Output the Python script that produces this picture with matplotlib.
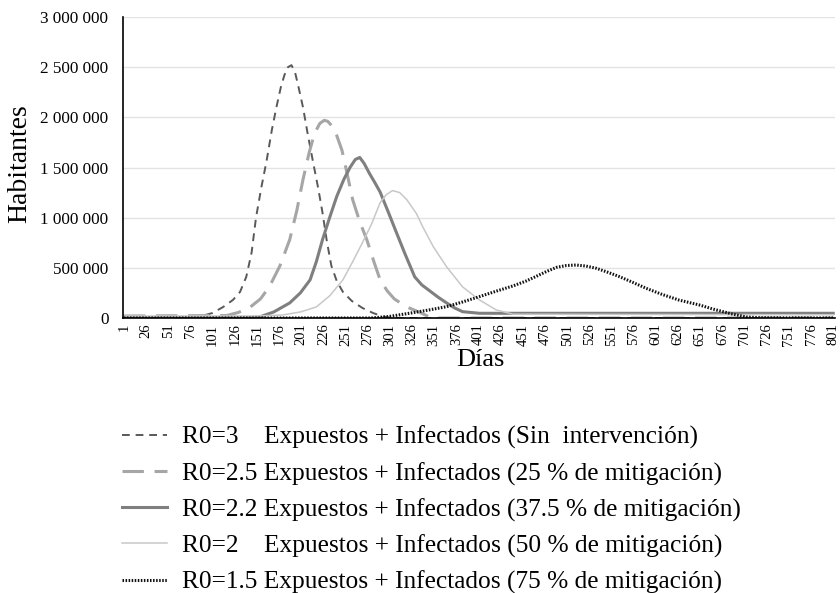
import numpy as np
import matplotlib
matplotlib.use("Agg")
import matplotlib.pyplot as plt
from matplotlib.ticker import FuncFormatter

# days on the x axis (category labels every 25 days)
tick_days = list(range(1, 802, 25))

# values in thousands of people
days_r3 = [1, 60, 85, 101, 113, 124, 132, 139, 145, 150, 156, 162, 168, 173,
           178, 182, 186, 190, 194, 198, 203, 208, 214, 220, 225, 230, 235,
           241, 248, 258, 270, 282, 293, 305, 801]
vals_r3 = [0, 0, 10, 50, 110, 180, 260, 410, 650, 1000, 1300, 1570, 1880, 2100,
           2300, 2420, 2500, 2520, 2450, 2300, 2100, 1850, 1570, 1300, 1050, 760,
           520, 370, 260, 170, 100, 50, 15, 0, 0]

days_r25 = [1, 117, 130, 143, 155, 165, 177, 188, 196, 203, 210, 216, 222, 227,
            231, 235, 241, 247, 253, 259, 267, 275, 283, 290, 298, 306, 320,
            335, 348, 801]
vals_r25 = [20, 25, 55, 105, 190, 310, 520, 780, 1070, 1380, 1650, 1840, 1940,
            1970, 1960, 1920, 1820, 1670, 1430, 1180, 960, 780, 560, 380, 270,
            190, 110, 55, 0, 0]

days_r22 = [1, 130, 154, 170, 188, 200, 211, 218, 225, 233, 241, 249, 256, 262,
            267, 272, 278, 284, 290, 299, 308, 318, 329, 337, 346, 355, 365,
            374, 383, 402, 801]
vals_r22 = [0, 0, 10, 60, 150, 250, 380, 560, 780, 1000, 1210, 1380, 1500, 1580,
            1600, 1540, 1440, 1350, 1255, 1060, 860, 640, 410, 330, 270, 210,
            150, 100, 63, 47, 47]

days_r2 = [1, 150, 180, 200, 218, 233, 248, 259, 270, 280, 290, 297, 304, 312,
           320, 331, 338, 350, 365, 383, 402, 421, 440, 801]
vals_r2 = [20, 20, 30, 60, 110, 220, 380, 560, 750, 930, 1150, 1230, 1270, 1250,
           1180, 1040, 910, 710, 510, 310, 180, 80, 38, 32]

days_r15 = [1, 280, 300, 327, 345, 365, 383, 402, 420, 440, 455, 466, 478, 489,
            500, 511, 522, 534, 547, 560, 575, 590, 608, 627, 650, 665, 687,
            703, 720, 801]
vals_r15 = [0, 0, 15, 53, 80, 113, 160, 213, 265, 320, 370, 415, 465, 505, 523,
            528, 518, 495, 455, 412, 355, 296, 235, 179, 130, 90, 40, 10, 2, 0]

labels = [
    "R0=3    Expuestos + Infectados (Sin  intervención)",
    "R0=2.5 Expuestos + Infectados (25 % de mitigación)",
    "R0=2.2 Expuestos + Infectados (37.5 % de mitigación)",
    "R0=2    Expuestos + Infectados (50 % de mitigación)",
    "R0=1.5 Expuestos + Infectados (75 % de mitigación)",
]


def fmt_thousands(v, pos):
    """3000000 -> '3 000 000'"""
    return f"{v:,.0f}".replace(",", " ")


def main():
    plt.rcParams["font.family"] = ["Liberation Serif", "DejaVu Serif"]
    W, H = 840, 593
    fig = plt.figure(figsize=(8.4, 5.93), dpi=100)
    ax = fig.add_axes([123 / W, 1 - 318 / H, 712 / W, 301 / H])

    series = [
        (days_r3, vals_r3, dict(color="#595959", lw=1.4, dashes=(4, 3))),
        (days_r25, vals_r25, dict(color="#a6a6a6", lw=2.2, dashes=(7, 3.5))),
        (days_r22, vals_r22, dict(color="#7f7f7f", lw=2.2)),
        (days_r2, vals_r2, dict(color="#c8c8c8", lw=1.1)),
        (days_r15, vals_r15, dict(color="#111111", lw=2.2, dashes=(0.5, 0.5))),
    ]
    handles = []
    for (d, v, style), lab in zip(series, labels):
        h, = ax.plot(d, np.array(v) * 1000, label=lab, **style)
        handles.append(h)

    ax.set_xlim(0, 803)
    ax.set_ylim(0, 3000000)
    ax.set_yticks(range(0, 3000001, 500000))
    ax.yaxis.set_major_formatter(FuncFormatter(fmt_thousands))
    ax.set_xticks(tick_days)
    ax.set_xticklabels([str(t) for t in tick_days], rotation=90, fontsize=10.5)
    ax.tick_params(axis="y", labelsize=12.3, length=0, pad=10.5)
    ax.tick_params(axis="x", length=0, pad=4)

    ax.grid(axis="y", color="#e3e3e3", lw=1)
    ax.set_axisbelow(True)
    for s in ["top", "right"]:
        ax.spines[s].set_visible(False)
    ax.spines["left"].set_linewidth(1.2)
    ax.spines["bottom"].set_linewidth(1.2)

    # axis titles
    fig.text(20 / W, 1 - 164 / H, "Habitantes", rotation=90,
             ha="center", va="center", fontsize=20)
    fig.text(480 / W, 1 - 360 / H, "Días", ha="center", va="center",
             fontsize=19)

    fig.legend(handles=handles, loc="upper left",
               bbox_to_anchor=(122 / W, 1 - 426 / H),
               frameon=False, fontsize=18.3, handlelength=1.77,
               handletextpad=0.59, labelspacing=0.5,
               borderpad=0, borderaxespad=0)

    fig.savefig("out.png", dpi=100)


if __name__ == "__main__":
    main()
